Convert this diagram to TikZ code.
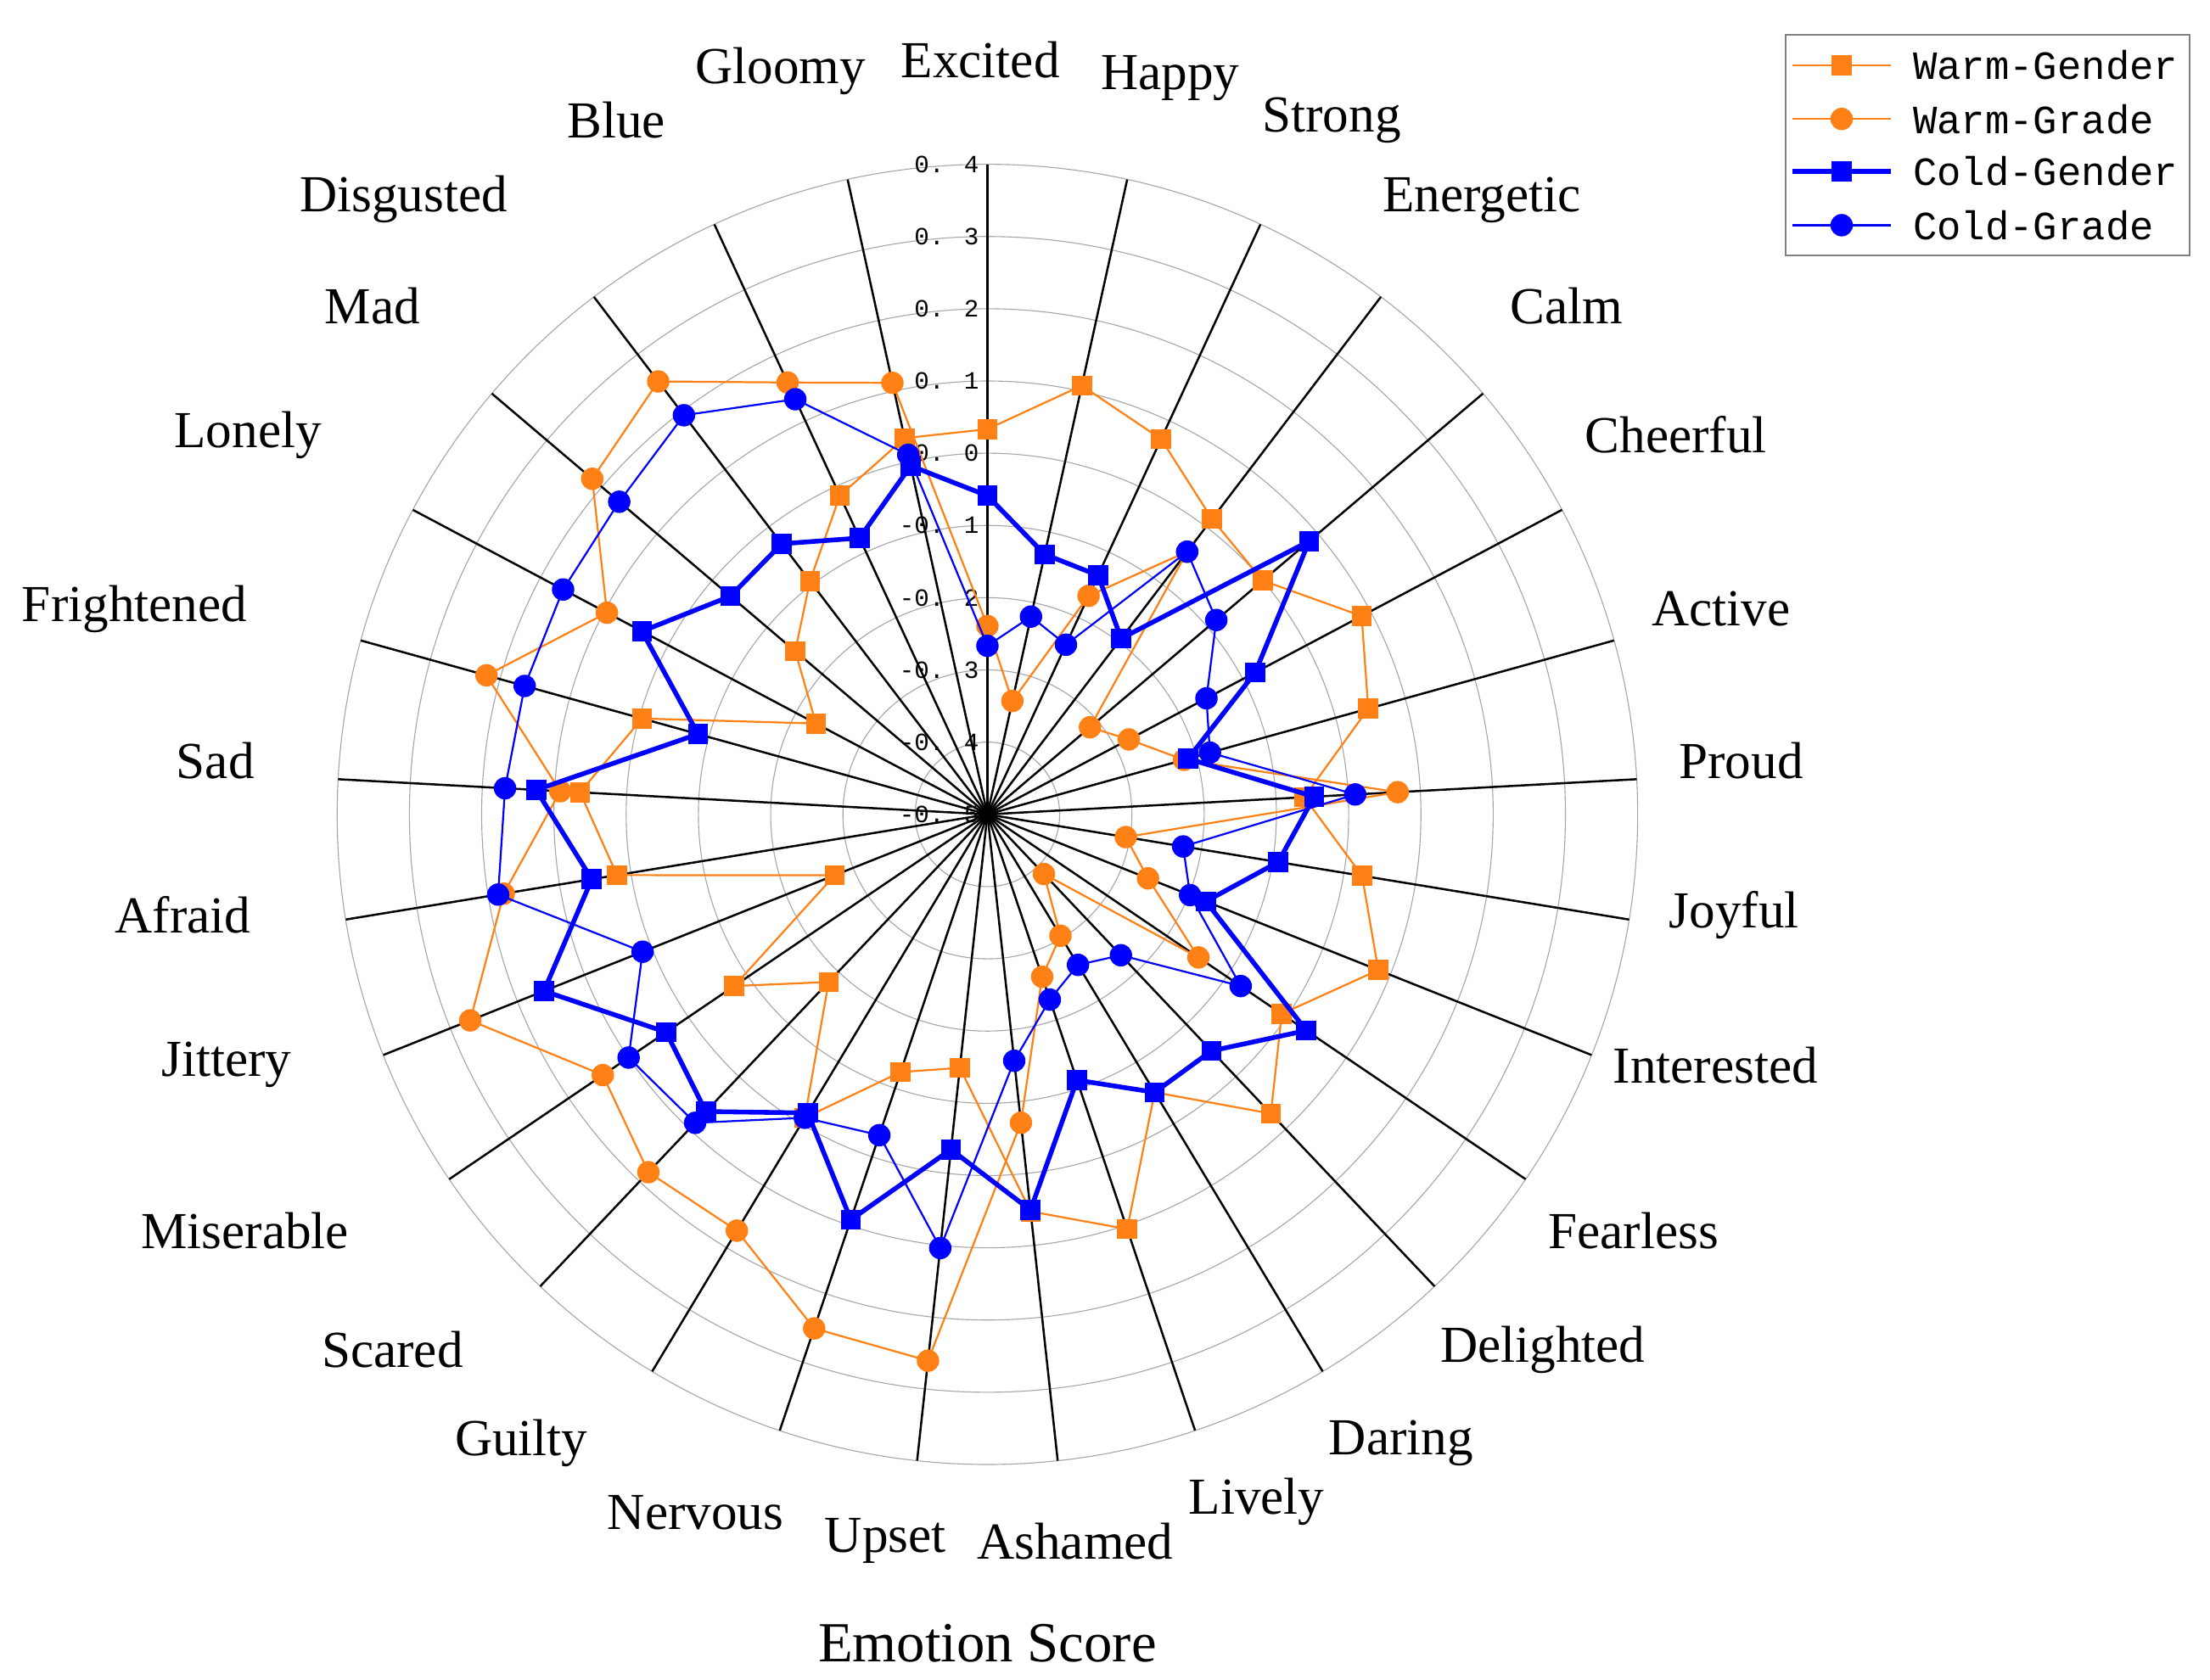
\documentclass[tikz,border=0pt]{standalone}
\usepackage{fontspec}
\setmainfont{Liberation Serif}
\newfontfamily\monof{Liberation Mono}
\definecolor{myor}{RGB}{255,128,20}
\definecolor{mybl}{RGB}{0,0,255}
\begin{document}
\begin{tikzpicture}[x=0.6pt,y=0.6pt,
  grid/.style={gray!70,line width=0.4pt},
  spoke/.style={black,line width=0.9pt},
  lab/.style={font=\fontsize{22}{24}\selectfont,inner sep=0pt},
  tick/.style={font=\monof\fontsize{10.5}{12}\selectfont,anchor=east,inner sep=1pt},
  wgl/.style={myor,line width=0.8pt},
  wcl/.style={myor,line width=0.8pt},
  cgl/.style={mybl,line width=2pt},
  ccl/.style={mybl,line width=0.8pt},
  osq/.style={fill=myor,minimum size=8.5pt,inner sep=0pt},
  oci/.style={circle,fill=myor,minimum size=9.5pt,inner sep=0pt},
  bsq/.style={fill=mybl,minimum size=8.5pt,inner sep=0pt},
  bci/.style={circle,fill=mybl,minimum size=9.5pt,inner sep=0pt},
  leg/.style={font=\monof\fontsize{17}{19}\selectfont,anchor=west,inner sep=0pt}]
\useasboundingbox (-697,-611) rectangle (863,575);
% grid circles
\foreach \k in {1,...,9} \draw[grid] (0,0) circle ({51*\k});
% spokes
\foreach \i in {0,...,28} \draw[spoke] (0,0) -- ({90-\i*360/29}:459);
\draw[black,line width=1.2pt] (0,0) -- (0,459);
% tick labels
\foreach \v [count=\j from 0] in {-0. 5,-0. 4,-0. 3,-0. 2,-0. 1,0. 0,0. 1,0. 2,0. 3,0. 4}
  \node[tick] (t\j) at (-4,{51*\j}) {\v};
% axis labels
\foreach \t/\x/\y [count=\n] in {Excited/692/42,Happy/826/55,Strong/940/85,Energetic/1046/141,Calm/1106/216,Cheerful/1183/307,Active/1215/430,Proud/1229/537,Joyful/1224/646,Interested/1211/752,Fearless/1153/869,Delighted/1089/953,Daring/989/1019,Lively/887/1060,Ashamed/759/1088,Upset/625/1088,Nervous/491/1068,Guilty/368/1019,Scared/277/953,Miserable/173/869,Jittery/160/752,Afraid/129/646,Sad/152/537,Frightened/95/430,Lonely/175/307,Mad/263/216,Disgusted/285/141,Blue/435/85,Gloomy/551/50}
  \node[lab] (l\n) at ({\x-697},{575-\y}) {\t};
\node[font=\fontsize{24}{26}\selectfont] (title) at (0,-585) {Emotion Score};
% data
\foreach \r [count=\i from 0] in {272,310,292,262,255,299,279,224,268,297,251,291,229,309,282,180,192,250,163,216,116,265,288,253,137,178,207,248,272}
  \coordinate (A\i) at ({90-\i*360/29}:\r);
\foreach \r [count=\i from 0] in {133,82,170,233,95,113,144,290,99,122,180,58,100,121,219,388,383,343,348,328,393,346,302,367,304,366,384,336,312}
  \coordinate (B\i) at ({90-\i*360/29}:\r);
\foreach \r [count=\i from 0] in {225,188,186,156,298,214,147,231,208,166,272,230,229,198,281,238,302,246,289,274,337,283,319,212,276,238,240,215,252}
  \coordinate (C\i) at ({90-\i*360/29}:\r);
\foreach \r [count=\i from 0] in {119,143,132,233,212,175,163,260,140,154,216,137,124,138,175,308,239,250,300,306,262,350,341,339,339,341,354,323,260}
  \coordinate (D\i) at ({90-\i*360/29}:\r);
\draw[wgl] (A0) \foreach \i in {1,...,28}{ -- (A\i)} -- cycle;
\foreach \i in {0,...,28} \node[osq] (a\i) at (A\i) {};
\draw[wcl] (B0) \foreach \i in {1,...,28}{ -- (B\i)} -- cycle;
\foreach \i in {0,...,28} \node[oci] (b\i) at (B\i) {};
\draw[cgl] (C0) \foreach \i in {1,...,28}{ -- (C\i)} -- cycle;
\foreach \i in {0,...,28} \node[bsq] (c\i) at (C\i) {};
\draw[ccl] (D0) \foreach \i in {1,...,28}{ -- (D\i)} -- cycle;
\foreach \i in {0,...,28} \node[bci] (d\i) at (D\i) {};
% legend
\node[draw=gray,line width=0.6pt,minimum width=285*0.6pt,minimum height=156*0.6pt,anchor=north west,inner sep=0pt] (lg) at (563,551) {};
\coordinate (L1a) at (568,529); \coordinate (L1b) at (638,529);
\coordinate (L2a) at (568,491); \coordinate (L2b) at (638,491);
\coordinate (L3a) at (568,454); \coordinate (L3b) at (638,454);
\coordinate (L4a) at (568,416); \coordinate (L4b) at (638,416);
\draw[wgl] (L1a) -- (L1b); \node[osq] (m1) at (603,529) {}; \node[leg] (n1) at (653,529) {Warm-Gender};
\draw[wcl] (L2a) -- (L2b); \node[oci] (m2) at (603,491) {}; \node[leg] (n2) at (653,491) {Warm-Grade};
\draw[cgl] (L3a) -- (L3b); \node[bsq] (m3) at (603,454) {}; \node[leg] (n3) at (653,454) {Cold-Gender};
\draw[ccl] (L4a) -- (L4b); \node[bci] (m4) at (603,416) {}; \node[leg] (n4) at (653,416) {Cold-Grade};
\end{tikzpicture}
\end{document}
